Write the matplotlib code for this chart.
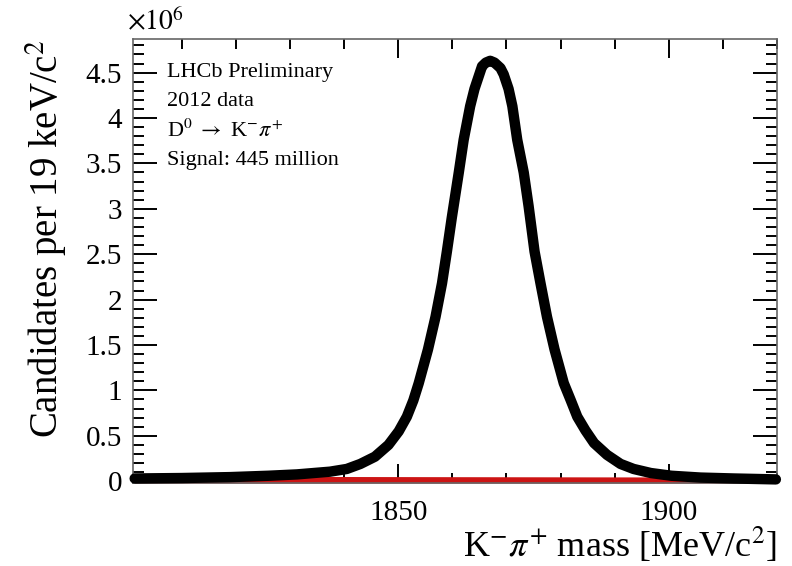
import matplotlib.pyplot as plt
import numpy as np
from matplotlib.ticker import MultipleLocator, FuncFormatter

plt.rcParams['font.family'] = ['Liberation Serif', 'DejaVu Serif']
plt.rcParams['mathtext.fontset'] = 'stix'

# DATA  (mass in MeV/c^2, candidates in units of 1e6 per 19 keV/c^2)
mass = [1801.3, 1810.0, 1818.9, 1826.0, 1831.3, 1837.4, 1840.5, 1843.0, 1845.7,
        1848.2, 1850.1, 1851.6, 1852.8, 1853.8, 1855.5, 1856.9, 1858.1, 1859.0,
        1859.9, 1861.2, 1862.1, 1863.3, 1864.1, 1865.5, 1866.2, 1867.0, 1867.8,
        1868.9, 1869.5, 1870.4, 1871.1, 1872.0, 1873.2, 1874.1, 1875.2, 1876.3,
        1877.5, 1878.9, 1880.6, 1881.9, 1883.1, 1884.6, 1886.2, 1888.6, 1891.1,
        1893.5, 1896.7, 1900.5, 1905.9, 1912.0, 1919.8]
candidates = [0.030, 0.035, 0.045, 0.060, 0.075, 0.105, 0.135, 0.190, 0.270,
              0.400, 0.550, 0.710, 0.890, 1.080, 1.450, 1.810, 2.180, 2.530,
              2.900, 3.400, 3.760, 4.130, 4.320, 4.570, 4.610, 4.630, 4.610,
              4.550, 4.480, 4.320, 4.130, 3.760, 3.400, 3.030, 2.530, 2.180,
              1.810, 1.450, 1.080, 0.890, 0.710, 0.560, 0.420, 0.290, 0.190,
              0.135, 0.090, 0.060, 0.040, 0.030, 0.020]
bkg_mass = [1801.3, 1860.0, 1919.8]
bkg_level = [0.055, 0.050, 0.045]

info_lines = ['LHCb Preliminary', '2012 data',
              r'D$^{0}$ $\rightarrow$ K$^{-}\pi^{+}$', 'Signal: 445 million']

# FIGURE
fig = plt.figure(figsize=(7.92, 5.66), dpi=100)
ax = fig.add_axes([0.168, 0.1466, 0.813, 0.7845])

# background component (red) and data curve (black)
ax.fill_between(bkg_mass, -0.02, bkg_level, color='#cc1414', lw=0, zorder=2)
ax.plot(mass, candidates, color='k', lw=7.5, solid_capstyle='round',
        solid_joinstyle='round', zorder=3, clip_on=False)

ax.set_xlim(1801, 1920)
ax.set_ylim(-0.02, 4.87)

ax.xaxis.set_major_locator(MultipleLocator(50))
ax.xaxis.set_minor_locator(MultipleLocator(10))
ax.yaxis.set_major_locator(MultipleLocator(0.5))
ax.yaxis.set_minor_locator(MultipleLocator(0.1))
ax.yaxis.set_major_formatter(FuncFormatter(lambda v, p: '%g' % v))

ax.tick_params(which='both', direction='in', top=True, right=True,
               labelsize=21, width=1.4, color='k')
ax.tick_params(which='major', length=17)
ax.tick_params(which='minor', length=8)
ax.tick_params(axis='x', which='major', length=14, pad=12)
ax.tick_params(axis='x', which='minor', length=7)
ax.tick_params(axis='y', pad=8)

for sp in ax.spines.values():
    sp.set_color('#666666')
    sp.set_linewidth(1.2)

ax.text(-0.01, 1.005, r'$\times10^{6}$', transform=ax.transAxes,
        fontsize=20, ha='left', va='bottom')

ax.set_xlabel(r'K$^{-}\pi^{+}$ mass [MeV/c$^{2}$]', fontsize=26,
              ha='right', x=1.0, labelpad=0)
ax.set_ylabel(r'Candidates per 19 keV/c$^{2}$', fontsize=28,
              ha='right', y=1.0, labelpad=12)

for i, line in enumerate(info_lines):
    ax.text(0.053, 0.925 - i * 0.066, line, transform=ax.transAxes,
            fontsize=16, ha='left', va='center')

fig.savefig('out.png', dpi=100)
